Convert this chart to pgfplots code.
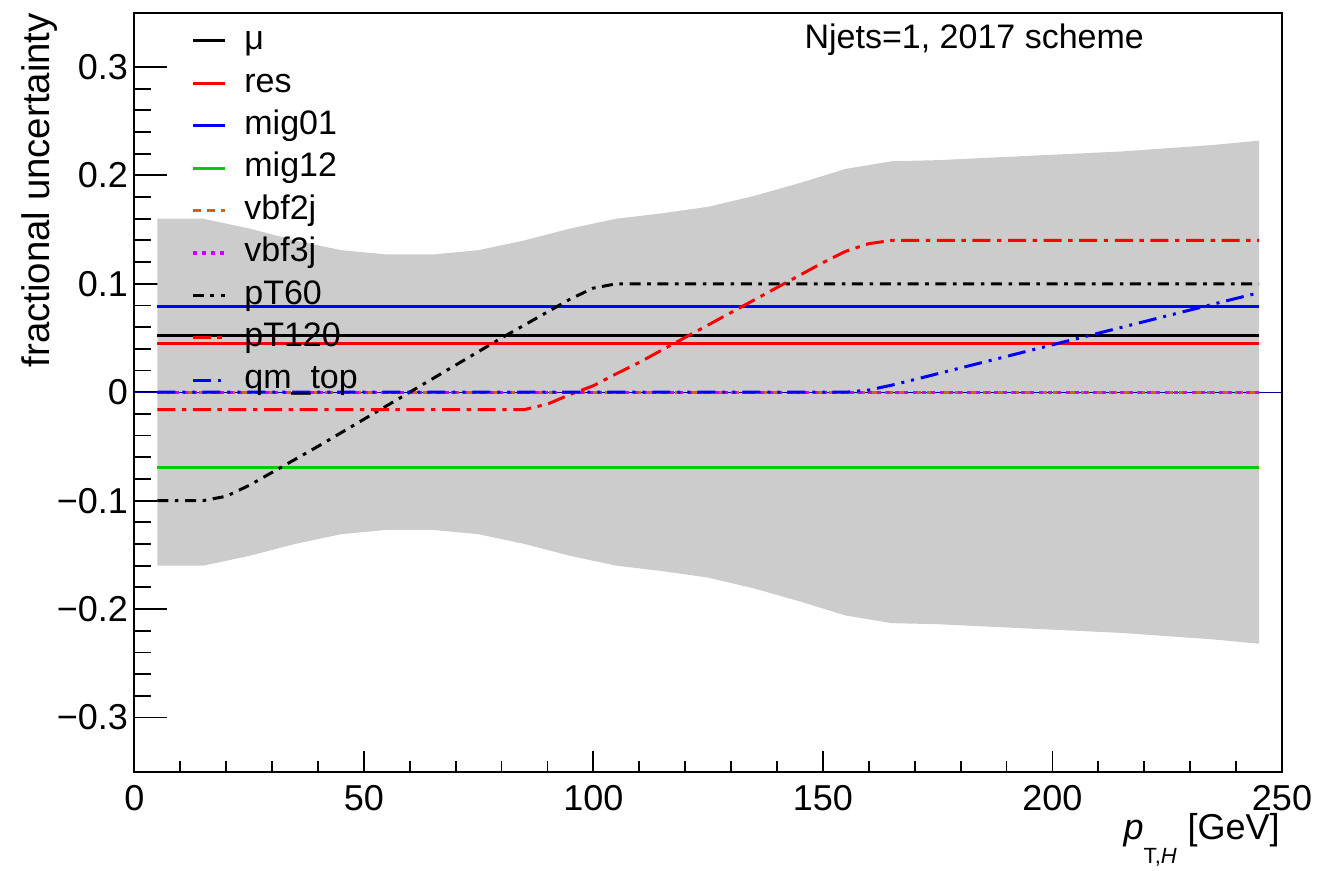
\documentclass[border=0pt]{standalone}
\usepackage{fontspec}
\setmainfont{Liberation Sans}
\usepackage{pgfplots}
\usepackage{pgfplotstable}
\usepgfplotslibrary{fillbetween}
\pgfplotsset{compat=1.18}

\definecolor{bandgray}{RGB}{204,204,204}
\definecolor{rootgreen}{RGB}{0,204,0}
\definecolor{rootorange}{RGB}{204,102,0}
\definecolor{rootmagenta}{RGB}{204,0,255}
\definecolor{navyline}{RGB}{0,0,153}

\pgfplotstableread{
x up lo
5 0.160 -0.160
15 0.160 -0.160
25 0.151 -0.151
35 0.140 -0.140
45 0.131 -0.131
55 0.127 -0.127
65 0.127 -0.127
75 0.131 -0.131
85 0.140 -0.140
95 0.151 -0.151
105 0.160 -0.160
115 0.165 -0.165
125 0.171 -0.171
135 0.181 -0.181
145 0.193 -0.193
155 0.206 -0.206
165 0.213 -0.213
175 0.214 -0.214
185 0.216 -0.216
195 0.218 -0.218
205 0.220 -0.220
215 0.222 -0.222
225 0.225 -0.225
235 0.228 -0.228
245 0.232 -0.232
}\bandtable

\pgfplotstableread{
x y
5 -0.1
15 -0.1
20 -0.096
25 -0.086
30 -0.074
35 -0.062
40 -0.050
45 -0.0375
50 -0.025
55 -0.0125
60 0
65 0.0125
70 0.025
75 0.0375
80 0.050
85 0.062
90 0.074
95 0.086
100 0.096
105 0.1
245 0.1
}\ptsixty

\pgfplotstableread{
x y
5 -0.016
85 -0.016
90 -0.011
95 -0.002
100 0.006
105 0.017
110 0.0275
115 0.039
120 0.0505
125 0.062
130 0.0735
135 0.085
140 0.0965
145 0.108
150 0.1195
155 0.130
160 0.137
165 0.140
245 0.140
}\pttwenty

\pgfplotstableread{
x y
5 0
155 0
160 0.002
165 0.0065
170 0.0117
180 0.0224
190 0.033
200 0.0437
210 0.0544
220 0.0651
230 0.0758
240 0.0865
245 0.0918
}\qmtop

\begin{document}
\begin{tikzpicture}
\begin{axis}[
  at={(0pt,0pt)}, anchor=south west,
  scale only axis, width=573.85pt, height=379.5pt,
  xmin=0, xmax=250, ymin=-0.35, ymax=0.35,
  xtick={0,50,100,150,200,250},
  ytick={-0.3,-0.2,-0.1,0,0.1,0.2,0.3},
  yticklabels={−0.3,−0.2,−0.1,0,0.1,0.2,0.3},
  minor x tick num=4, minor y tick num=4,
  tick align=inside, tick pos=left,
  /pgf/number format/assume math mode=true,
  xticklabel style={font=\fontsize{18}{20}\selectfont, inner sep=0pt, yshift=-6.6pt},
  yticklabel style={font=\fontsize{18}{20}\selectfont, inner sep=0pt, xshift=-3pt},
  axis line style={line width=1pt},
  tick style={black, line width=0.9pt},
  xtick style={/pgfplots/major tick length=10.5pt, /pgfplots/minor tick length=5.3pt},
  ytick style={/pgfplots/major tick length=16.5pt, /pgfplots/minor tick length=8.3pt},
  legend style={at={(0.0440,0.9894)}, anchor=north west, draw=none, fill=none,
    font=\fontsize{17}{19}\selectfont, row sep=5.4pt, column sep=9pt,
    nodes={inner sep=0pt, text height=12.3pt, text depth=3.5pt}},
  legend cell align=left,
  legend image code/.code={\draw[#1] (0pt,0pt) -- (16pt,0pt);},
]
\addplot[navyline, line width=0.6pt, forget plot] coordinates {(0,0) (250,0)};
\addplot[name path=up, draw=none, forget plot] table[x=x, y=up] {\bandtable};
\addplot[name path=lo, draw=none, forget plot] table[x=x, y=lo] {\bandtable};
\addplot[bandgray, draw=none, forget plot] fill between[of=up and lo];

\addplot[black, line width=1.5pt] coordinates {(5,0.052) (245,0.052)};
\addlegendentry{μ}
\addplot[red, line width=1.5pt] coordinates {(5,0.045) (245,0.045)};
\addlegendentry{res}
\addplot[blue, line width=1.5pt] coordinates {(5,0.079) (245,0.079)};
\addlegendentry{mig01}
\addplot[rootgreen, line width=1.5pt] coordinates {(5,-0.069) (245,-0.069)};
\addlegendentry{mig12}
\addplot[rootorange, line width=1.5pt, dash pattern=on 4pt off 3pt] coordinates {(5,0) (245,0)};
\addlegendentry{vbf2j}
\addplot[rootmagenta, line width=1.6pt, dash pattern=on 2pt off 2.5pt] coordinates {(5,0) (245,0)};
\addlegendentry{vbf3j}
\addplot[black, line width=1.5pt, dash pattern=on 5.5pt off 3.3pt on 1.8pt off 3.3pt] table[x=x,y=y] {\ptsixty};
\addlegendentry{pT60}
\addplot[red, line width=1.5pt, dash pattern=on 9pt off 3.3pt on 2.2pt off 3.3pt] table[x=x,y=y] {\pttwenty};
\addlegendentry{pT120}
\addplot[blue, line width=1.5pt, dash pattern=on 9pt off 3.5pt on 1.5pt off 3.5pt on 1.5pt off 3.5pt] table[x=x,y=y] {\qmtop};
\addlegendentry{qm\_top}
\end{axis}

\node[anchor=base east, font=\fontsize{17}{19}\selectfont, inner sep=0pt] at (505pt,361.5pt) {Njets=1, 2017 scheme};
\node[rotate=90, anchor=base east, font=\fontsize{19.2}{21}\selectfont, inner sep=0pt] at (-42.2pt,379.5pt) {fractional uncertainty};
\node[anchor=base east, font=\fontsize{18}{20}\selectfont, inner sep=0pt] at (572.85pt,-34pt) {\textit{p}\raisebox{-12pt}{\fontsize{11}{12}\selectfont T,\textit{H}}\hspace{0.3em}[GeV]};

\pgfresetboundingbox
\path (-67.15pt,-49.65pt) rectangle (591.85pt,385.85pt);
\end{tikzpicture}
\end{document}
